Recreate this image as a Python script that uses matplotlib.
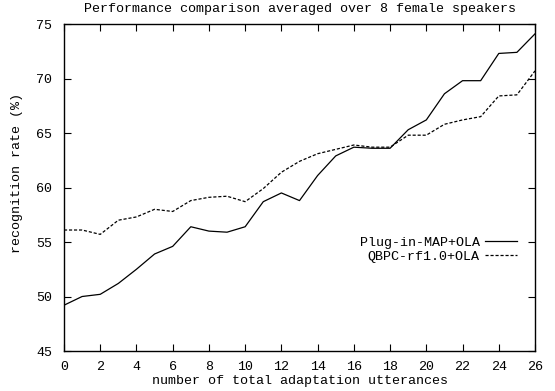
import matplotlib
matplotlib.use('Agg')
import matplotlib.pyplot as plt

plt.rcParams['font.family'] = ['Liberation Mono', 'DejaVu Sans Mono']

utterances = list(range(0, 27))
plug_in_map = [49.2, 50.0, 50.2, 51.2, 52.5, 53.9, 54.6, 56.4, 56.0, 55.9, 56.4,
               58.7, 59.5, 58.8, 61.1, 62.9, 63.7, 63.6, 63.6, 65.3, 66.2,
               68.6, 69.8, 69.8, 72.3, 72.4, 74.1]
qbpc = [56.1, 56.1, 55.7, 57.0, 57.3, 58.0, 57.8, 58.8, 59.1, 59.2, 58.7,
        59.9, 61.4, 62.4, 63.1, 63.5, 63.9, 63.7, 63.7, 64.8, 64.8,
        65.8, 66.2, 66.5, 68.4, 68.5, 70.7]

fig = plt.figure(figsize=(5.55, 3.91), dpi=100)
ax = fig.add_axes([0.1153, 0.1023, 0.8487, 0.8363])

ax.plot(utterances, plug_in_map, color='black', lw=0.9, label='Plug-in-MAP+OLA')
ax.plot(utterances, qbpc, color='black', lw=0.9, ls=(0, (2.5, 1.5)), label='QBPC-rf1.0+OLA')

ax.set_xlim(0, 26)
ax.set_ylim(45, 75)
ax.set_xticks(range(0, 27, 2))
ax.set_yticks(range(45, 76, 5))
ax.tick_params(direction='in', length=5, width=0.8, top=True, right=True,
               labelsize=9.6, colors='black')
ax.tick_params(axis='x', pad=7.5)
ax.tick_params(axis='y', pad=8.5)
for s in ax.spines.values():
    s.set_linewidth(1.0)

ax.set_title('Performance comparison averaged over 8 female speakers', fontsize=9.6, pad=9)
ax.set_xlabel('number of total adaptation utterances', fontsize=9.6, va='center')
ax.xaxis.set_label_coords(0.5, -0.091)
ax.set_ylabel('recognition rate (%)', fontsize=9.6, va='center')
ax.yaxis.set_label_coords(-0.1, 0.544)

ax.legend(loc='center right', bbox_to_anchor=(0.962, 0.31), frameon=False,
          markerfirst=False, fontsize=9.6, handlelength=2.4, handletextpad=0.4,
          labelspacing=0.15, borderpad=0, borderaxespad=0)

fig.savefig('out.png', dpi=100)
